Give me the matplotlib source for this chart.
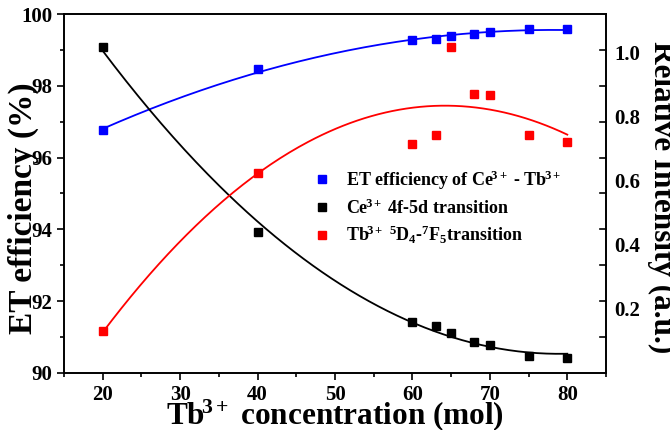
import numpy as np
import matplotlib
matplotlib.use("Agg")
import matplotlib.pyplot as plt
from matplotlib.ticker import MultipleLocator

plt.rcParams.update({
    "font.family"        : "Liberation Serif",
    "font.weight"        : "bold",
    "axes.labelweight"   : "bold",
    "mathtext.fontset"   : "custom",
    "mathtext.rm"        : "Liberation Serif:bold",
    "mathtext.it"        : "Liberation Serif:bold:italic",
    "mathtext.bf"        : "Liberation Serif:bold",
    "mathtext.default"   : "rm",
    "axes.linewidth"     : 1.2,
})

# ─── Data ────────────────────────────────────────────────────────────────────
conc     = [20, 40, 60, 63, 65, 68, 70, 75, 80]
et_eff   = [96.77, 98.46, 99.28, 99.31, 99.40, 99.45, 99.49, 99.57, 99.59]
ce_int   = [1.017, 0.440, 0.160, 0.147, 0.124, 0.098, 0.087, 0.054, 0.048]
tb_int   = [0.132, 0.624, 0.713, 0.742, 1.017, 0.871, 0.868, 0.741, 0.722]

BLUE  = "#0000ff"
BLACK = "#000000"
RED   = "#ff0000"

fig = plt.figure(figsize=(6.7, 4.3), dpi=100)
ax = fig.add_axes([0.0955, 0.1326, 0.809, 0.8348])
ax2 = ax.twinx()

xf = np.linspace(min(conc), max(conc), 200)

def fit(y, deg=2):
    return np.polyval(np.polyfit(conc, y, deg), xf)

# ── Left axis : ET efficiency ──
ax.plot(xf, fit(et_eff), color=BLUE, lw=1.3)
h1, = ax.plot(conc, et_eff, "s", color=BLUE, ms=6,
              label=r"ET efficiency of Ce$^{\!3+}$ - Tb$^{\!3+}$")

# ── Right axis : relative intensity ──
ax2.plot(xf, fit(ce_int), color=BLACK, lw=1.3)
h2, = ax2.plot(conc, ce_int, "s", color=BLACK, ms=6,
               label=r"Ce$^{\!3+}$ 4f-5d transition")
ax2.plot(xf, fit(tb_int), color=RED, lw=1.3)
h3, = ax2.plot(conc, tb_int, "s", color=RED, ms=6,
               label=r"Tb$^{\!3+}$ $^{5}$D$_{4}$-$^{7}$F$_{5}$transition")

ax.set_xlim(15, 85)
ax.set_ylim(90, 100)
ax2.set_ylim(0, 1.12)

ax.xaxis.set_major_locator(MultipleLocator(10))
ax.xaxis.set_minor_locator(MultipleLocator(5))
ax.yaxis.set_major_locator(MultipleLocator(2))
ax.yaxis.set_minor_locator(MultipleLocator(1))
ax.tick_params(axis="both", which="major", direction="out", length=5, width=1.2,
               labelsize=15, top=False)
ax.tick_params(axis="both", which="minor", direction="out", length=3, width=1.2)
ax.tick_params(axis="y", which="both", right=False)

ax2.set_yticks([0.2, 0.4, 0.6, 0.8, 1.0])
ax2.set_yticklabels(["0.2", "0.4", "0.6", "0.8", "1.0"])
ax2.tick_params(axis="y", length=0, labelsize=15, pad=6)

# mirror left tick marks on the right spine, pointing inward
for v in range(91, 100):
    yy = (v - 90) / 10
    ax.plot([1 - 0.012, 1], [yy, yy], color="black", lw=1.2,
            transform=ax.transAxes, clip_on=False)

ax.set_xlabel(r"Tb$^{\!3+}$ concentration (mol)", fontsize=22.5,
              fontweight="bold", va="top")
ax.xaxis.set_label_coords(0.5, -0.068)
ax.set_ylabel("ET efficiency (%)", fontsize=24, fontweight="bold", va="bottom")
ax.yaxis.set_label_coords(-0.046, 0.46)
ax2.set_ylabel("Relative Intensity (a.u.)", fontsize=22.5, fontweight="bold",
               rotation=-90, va="bottom")
ax2.yaxis.set_label_coords(1.075, 0.49)

ax2.legend(handles=[h1, h2, h3], loc="upper left", bbox_to_anchor=(0.453, 0.59),
           frameon=False, fontsize=13, handlelength=0.6, handletextpad=1.0,
           labelspacing=0.35, borderaxespad=0)

fig.savefig("out.png", dpi=100)
plt.close(fig)
